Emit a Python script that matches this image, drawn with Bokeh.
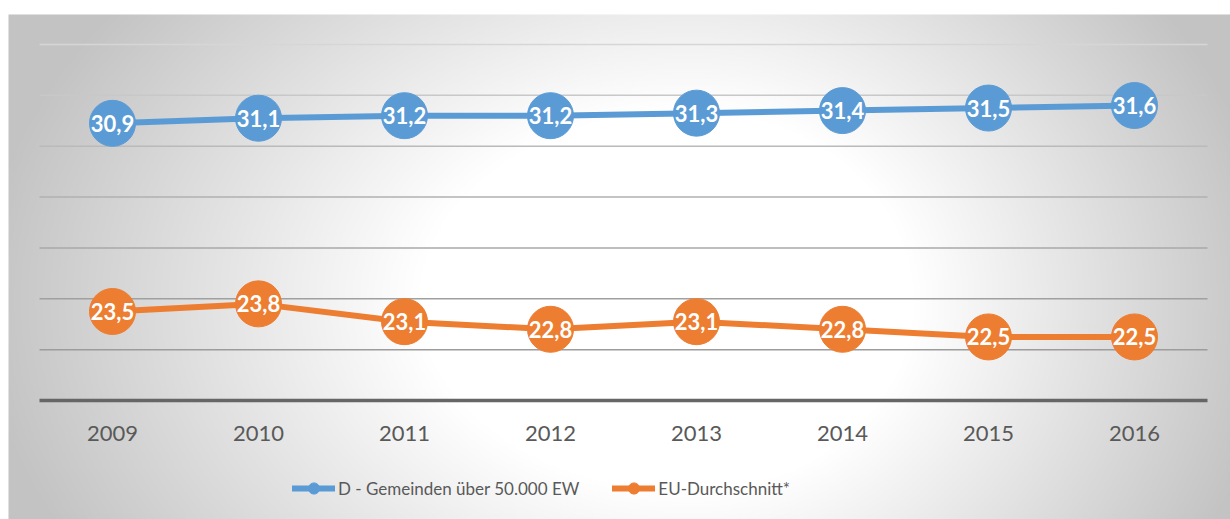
import numpy as np
from bokeh.plotting import figure
from bokeh.models import Range1d, ColumnDataSource, Legend, LegendItem, BoxAnnotation
from bokeh.core.properties import value
from bokeh.embed import file_html
from bokeh.resources import INLINE

# ---------------- data ----------------
years = ["2009", "2010", "2011", "2012", "2013", "2014", "2015", "2016"]
d_gemeinden = [30.9, 31.1, 31.2, 31.2, 31.3, 31.4, 31.5, 31.6]
eu_schnitt = [23.5, 23.8, 23.1, 22.8, 23.1, 22.8, 22.5, 22.5]
y_ticks = [22, 24, 26, 28, 30, 32, 34]
y_min = 20
series_names = ["D - Gemeinden über 50.000 EW", "EU-Durchschnitt*"]

# ---------------- layout (page pixels) ----------------
W, H = 1230, 519
PAGE_L, PAGE_T = 0, 0
CAT0_PX, CAT_STEP = 112, 146      # page x of first category, spacing
BASE_PX, UNIT_PX = 400, 25.43     # page y of y_min, px per unit

def dx(px):
    return (px - CAT0_PX) / CAT_STEP

def dy(py):
    return y_min + (BASE_PX - py) / UNIT_PX

x0, x1 = dx(PAGE_L), dx(PAGE_L + W)
y0, y1 = dy(PAGE_T + H), dy(PAGE_T)

p = figure(width=W, height=H, output_backend="svg", toolbar_location=None,
           x_range=Range1d(x0, x1), y_range=Range1d(y0, y1),
           min_border=0, background_fill_color="white", border_fill_color="white")
p.axis.visible = False
p.grid.visible = False
p.outline_line_color = None

# ---------------- background gradient ----------------
step = 2
left_px, top_px = 8, 14
gx = np.arange(left_px, PAGE_L + W, step) + step / 2
gy = np.arange(PAGE_T + H, top_px, -step) - step / 2   # bottom -> top rows
GX, GY = np.meshgrid(gx, gy)
cx, cy = 690.0, 300.0
rx = np.where(GX < cx, 680.0, 560.0)
ry = 480.0
t = np.sqrt(((GX - cx) / rx) ** 2 + ((GY - cy) / ry) ** 2)
g = 255 - 60 * np.clip((t - 0.4) / 0.65, 0, 1)
g = g.astype(np.uint32)
img = ((255 << 24) | (g << 16) | (g << 8) | g).astype(np.uint32)
p.image_rgba(image=[img], x=dx(left_px), y=y0, dw=x1 - dx(left_px), dh=dy(top_px) - y0)

# ---------------- grid lines & axis ----------------
grid_colors = ["#9c9c9c", "#a0a0a0", "#a8a8a8", "#b0b0b0", "#bababa", "#c8c8c8", "#d6d6d6"]
n = len(years)
p.segment(x0=[-0.5] * len(y_ticks), x1=[n - 0.5] * len(y_ticks), y0=y_ticks, y1=y_ticks,
          line_color=grid_colors, line_width=1.5)
p.segment(x0=[-0.5], x1=[n - 0.5], y0=[y_min], y1=[y_min], line_color="#666666", line_width=3.5)

# year labels
xs = list(range(n))
p.text(x=xs, y=[y_min] * n, text=years, text_align="center", text_baseline="middle",
       y_offset=33, text_font=value("Lato"), text_font_size="22px", text_color="#595959")

# ---------------- series ----------------
blue, orange = "#5B9BD5", "#ED7D31"
src_d = ColumnDataSource(dict(x=xs, y=d_gemeinden, lab=[f"{v:.1f}".replace(".", ",") for v in d_gemeinden]))
src_e = ColumnDataSource(dict(x=xs, y=eu_schnitt, lab=[f"{v:.1f}".replace(".", ",") for v in eu_schnitt]))

l1 = p.line("x", "y", source=src_d, line_color=blue, line_width=6, line_cap="round")
m1 = p.scatter("x", "y", source=src_d, size=46, fill_color=blue, line_color=blue)
l2 = p.line("x", "y", source=src_e, line_color=orange, line_width=6, line_cap="round")
m2 = p.scatter("x", "y", source=src_e, size=46, fill_color=orange, line_color=orange)

for src in (src_d, src_e):
    p.text("x", "y", text="lab", source=src, text_align="center", text_baseline="middle",
           text_font=value("Lato"), text_font_style="bold", text_font_size="22px",
           text_color="white")

# ---------------- legend ----------------
box = BoxAnnotation(left=dx(248), right=dx(1000), bottom=dy(510), top=dy(464),
                    fill_color="#f2f3f3", fill_alpha=0.9, line_color=None, level="underlay")
p.add_layout(box)

legend = Legend(items=[LegendItem(label=series_names[0], renderers=[l1, m1]),
                       LegendItem(label=series_names[1], renderers=[l2, m2])],
                orientation="horizontal", location=(292 - PAGE_L, 17),
                padding=0, margin=0, spacing=33, glyph_width=43, glyph_height=28,
                label_standoff=3, label_height=28,
                label_text_font="Lato", label_text_font_size="17px", label_text_color="#595959",
                background_fill_alpha=0, border_line_alpha=0)
p.add_layout(legend, "center")

open("out.html", "w").write(file_html(p, INLINE))
